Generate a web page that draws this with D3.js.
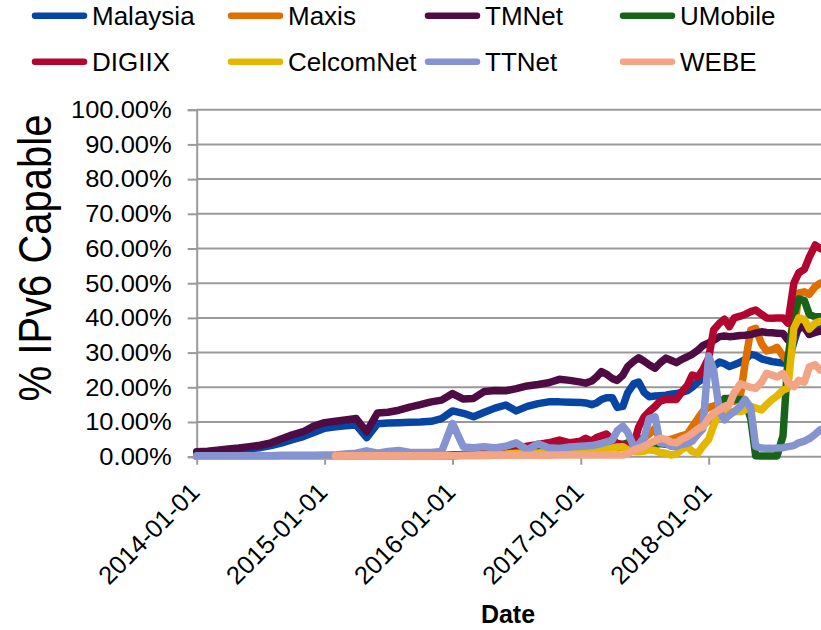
<!DOCTYPE html>
<html>
<head>
<meta charset="utf-8">
<script src="https://cdn.jsdelivr.net/npm/d3@7"></script>
<style>
  html, body { margin: 0; padding: 0; background: #fff; }
  svg { display: block; font-family: "Liberation Sans", Arial, sans-serif; }
</style>
</head>
<body>
<svg id="chart" width="821" height="630"></svg>
<script>
// ---------- DATA ----------
const dates = [
  "2014-01-01","2014-02-01","2014-03-01","2014-04-01","2014-05-01","2014-06-01","2014-07-01","2014-08-01","2014-09-01","2014-10-01","2014-11-01","2014-12-01",
  "2015-01-01","2015-02-01","2015-03-01","2015-04-01","2015-05-01","2015-06-01","2015-07-01","2015-08-01","2015-09-01","2015-10-01","2015-11-01","2015-12-01",
  "2016-01-01","2016-02-01","2016-03-01","2016-04-01","2016-05-01","2016-06-01","2016-07-01","2016-08-01","2016-09-01","2016-10-01","2016-11-01","2016-12-01",
  "2017-01-01","2017-01-15","2017-02-01","2017-02-15","2017-03-01","2017-03-15","2017-04-01","2017-04-15","2017-05-01","2017-05-15","2017-06-01","2017-06-15",
  "2017-07-01","2017-07-15","2017-08-01","2017-08-15","2017-09-01","2017-09-15","2017-10-01","2017-10-15","2017-11-01","2017-11-15","2017-12-01","2017-12-15",
  "2018-01-01","2018-01-15","2018-02-01","2018-02-15","2018-03-01","2018-03-15","2018-04-01","2018-04-15","2018-05-01","2018-05-15","2018-06-01","2018-06-15",
  "2018-07-01","2018-07-15","2018-08-01","2018-08-15","2018-09-01","2018-09-15","2018-10-01","2018-10-15","2018-11-01","2018-11-15"
];

const malaysia = [1.0,1.3,1.6,1.8,2.0,2.3,2.6,3.2,4.0,4.9,5.8,7.0, 8.2,8.6,8.9,9.1,5.5,9.5,9.7,9.8,9.9,10.0,10.2,11.0,
  13.2,12.5,11.5,12.8,14.0,14.9,13.2,14.5,15.3,15.8,15.8,15.7,
  15.6,15.5,15.0,15.5,16.5,17.0,17.0,14.2,14.5,18.5,21.0,21.5,18.5,17.3,17.5,17.6,17.7,18.0,18.2,18.5,19.0,20.0,21.5,22.5,
  24.5,26.0,27.3,26.8,26.0,26.5,27.2,28.0,29.5,29.2,28.2,27.8,27.4,27.2,27.0,27.0,33.0,37.5,38.0,37.0,37.8,37.5];

const maxis = [0.2,0.2,0.2,0.2,0.2,0.2,0.2,0.2,0.2,0.2,0.2,0.2, 0.3,0.3,0.3,0.3,0.3,0.3,0.3,0.3,0.3,0.3,0.3,0.3,
  0.5,0.5,0.6,0.7,0.8,0.9,1.0,1.2,1.5,1.8,2.0,2.0,
  2.0,2.5,2.2,2.8,3.0,3.5,3.0,2.5,2.8,3.0,3.2,4.0,5.5,6.5,8.2,4.8,4.5,5.0,5.5,6.0,6.5,8.6,11.0,13.0,
  14.2,14.6,15.4,15.6,15.8,16.0,17.3,27.0,36.5,37.0,32.5,30.5,30.8,31.5,29.0,27.6,35.0,47.2,47.5,46.8,49.0,50.0];

const tmnet = [1.4,1.6,1.9,2.2,2.5,2.9,3.3,4.0,5.2,6.3,7.2,8.8, 9.8,10.2,10.6,11.0,7.2,12.6,12.8,13.4,14.3,15.0,15.8,16.3,
  18.2,16.6,16.8,18.8,19.1,19.0,19.6,20.4,20.8,21.3,22.3,22.0,
  21.5,21.2,21.8,23.0,24.5,23.8,22.5,22.0,23.5,26.0,27.5,28.5,27.5,26.5,25.5,27.0,28.4,27.8,27.1,28.0,28.8,29.5,30.7,32.0,
  32.8,33.5,34.6,34.8,34.6,34.7,34.9,35.0,35.2,35.6,36.0,35.8,35.7,35.6,35.5,33.6,35.0,37.0,37.3,35.2,35.8,36.2];

const umobile = [0.3,0.3,0.3,0.3,0.3,0.3,0.3,0.3,0.3,0.3,0.3,0.3, 0.3,0.3,0.3,0.3,0.3,0.3,0.3,0.3,0.3,0.3,0.3,0.3,
  0.5,0.6,0.7,0.8,1.0,1.5,2.0,2.5,2.0,2.8,3.0,2.6,
  3.0,3.2,3.0,3.3,3.4,3.0,2.8,3.0,3.5,4.0,4.5,5.3,4.0,2.9,3.5,3.8,3.6,3.4,3.8,4.2,4.8,5.0,6.7,9.0,
  10.6,11.5,13.5,16.8,16.8,16.5,16.5,15.8,11.0,0.3,0.2,0.2,0.2,0.2,6.0,28.0,41.0,45.5,45.0,41.0,40.3,40.3];

const digiix = [0.1,0.1,0.1,0.1,0.1,0.1,0.1,0.1,0.1,0.1,0.1,0.1, 0.1,0.1,0.1,0.1,0.1,0.1,0.1,0.1,0.1,0.1,0.1,0.1,
  0.3,0.5,0.8,1.0,1.5,2.0,2.5,3.0,3.5,4.0,4.8,4.0,
  4.5,5.3,4.5,5.5,6.0,6.5,5.0,3.8,3.5,3.4,3.5,8.5,11.5,13.0,14.5,16.0,16.5,16.5,16.5,18.5,20.5,23.5,23.0,25.0,
  28.5,36.5,38.5,39.6,37.5,40.0,40.5,41.0,41.8,42.3,41.0,40.0,39.9,40.0,40.0,38.5,50.0,53.0,54.0,57.5,61.0,60.0];

const celcomnet = [0.1,0.1,0.1,0.1,0.1,0.1,0.1,0.1,0.1,0.1,0.1,0.1, 0.1,0.1,0.1,0.1,0.1,0.1,0.1,0.1,0.1,0.1,0.1,0.1,
  0.3,0.4,0.5,0.6,0.7,0.8,1.0,1.0,1.1,1.2,1.3,1.3,
  1.4,1.5,1.5,1.8,2.2,2.4,2.5,2.8,2.9,2.0,1.5,1.4,1.6,2.0,1.8,1.2,1.0,0.5,0.8,2.0,2.9,1.5,1.0,3.0,
  5.0,9.0,12.6,12.8,12.9,13.0,13.0,13.5,14.5,14.0,13.5,15.0,16.5,17.5,19.2,19.8,37.0,40.0,39.5,36.8,38.5,39.0];

const ttnet = [0.3,0.3,0.3,0.3,0.3,0.3,0.3,0.3,0.4,0.4,0.4,0.4, 0.5,0.5,0.8,1.0,1.7,1.0,1.5,1.8,1.2,1.2,1.2,1.5,
  9.6,2.8,2.6,2.9,2.5,3.0,4.0,2.0,3.7,2.6,2.4,2.8,
  3.0,3.1,3.2,3.5,3.8,4.2,4.8,7.5,8.8,7.0,3.0,3.5,5.5,11.0,11.5,4.0,3.8,3.0,2.9,3.5,3.8,4.5,6.5,8.0,
  29.0,25.0,13.0,10.6,12.0,13.0,14.5,16.5,14.0,3.0,2.5,2.4,2.4,2.5,2.6,2.9,3.2,4.0,4.5,5.2,6.5,7.7];

const webe = [null,null,null,null,null,null,null,null,null,null,null,null, null,0.3,0.3,0.3,0.3,0.3,0.3,0.3,0.3,0.3,0.3,0.3,
  0.3,0.3,0.3,0.3,0.4,0.4,0.4,0.4,0.4,0.4,0.5,0.5,
  0.5,0.5,0.5,0.5,0.5,0.5,0.5,0.5,0.5,0.8,1.9,2.4,3.0,3.8,4.5,5.3,5.0,4.2,4.0,5.0,5.8,6.7,8.0,8.6,
  11.0,12.5,13.5,14.5,15.0,18.5,21.0,20.5,20.0,19.7,21.5,24.0,23.5,23.0,24.0,21.5,20.2,22.0,21.5,25.9,26.5,25.0];

const seriesNames = ["Malaysia","Maxis","TMNet","UMobile","DIGIIX","CelcomNet","TTNet","WEBE"];
const seriesValues = [malaysia, maxis, tmnet, umobile, digiix, celcomnet, ttnet, webe];
const seriesColors = ["#0645A3","#DE6F00","#4F0B43","#18631A","#B2052F","#E4B701","#8593D0","#F2A484"];
const yTicks = [0,10,20,30,40,50,60,70,80,90,100];
const xTicks = ["2014-01-01","2015-01-01","2016-01-01","2017-01-01","2018-01-01"];

// ---------- CHART ----------
const svg = d3.select("#chart");
const parse = d3.utcParse("%Y-%m-%d");
const fmt = d3.utcFormat("%Y-%m-%d");

const x = d3.scaleUtc()
  .domain([parse("2014-01-01"), parse("2018-01-01")])
  .range([196.7, 708.7]);
const y = d3.scaleLinear().domain([0, 100]).range([456.7, 109.7]);

const plotRight = 821;

// gridlines
svg.append("g").selectAll("line").data(yTicks.filter(d => d > 0)).join("line")
  .attr("x1", x.range()[0]).attr("x2", plotRight)
  .attr("y1", d => y(d)).attr("y2", d => y(d))
  .attr("stroke", "#9a9a9a").attr("stroke-width", 2);

// y axis
const yAxis = svg.append("g").attr("transform", `translate(${x.range()[0]},0)`)
  .call(d3.axisLeft(y).tickValues(yTicks).tickFormat(d => d.toFixed(2) + "%").tickSize(9).tickPadding(16));
yAxis.select(".domain").attr("stroke", "#9a9a9a").attr("stroke-width", 2);
yAxis.selectAll(".tick line").attr("stroke", "#9a9a9a").attr("stroke-width", 2);
yAxis.selectAll(".tick text")
  .attr("font-size", 23).attr("fill", "#000")
  .attr("font-family", "Liberation Sans, Arial, sans-serif")
  .attr("x", 0).attr("dy", "0.34em")
  .attr("transform", "translate(-25,0) scale(1.11,1)");

// x axis
const xAxis = svg.append("g").attr("transform", `translate(0,${y(0)})`)
  .call(d3.axisBottom(x).tickValues(xTicks.map(parse)).tickFormat(fmt).tickSize(8).tickSizeOuter(0));
xAxis.select(".domain").attr("d", `M${x.range()[0]},0H${plotRight}`).attr("stroke", "#9a9a9a").attr("stroke-width", 2);
xAxis.selectAll(".tick line").attr("stroke", "#9a9a9a").attr("stroke-width", 2);
xAxis.selectAll(".tick text")
  .attr("font-size", 25.5).attr("fill", "#000")
  .attr("font-family", "Liberation Sans, Arial, sans-serif")
  .attr("x", 0).attr("y", 0).attr("dy", 0)
  .attr("text-anchor", "end")
  .attr("transform", "translate(4,37) rotate(-45)");

// lines
svg.append("clipPath").attr("id", "plotclip")
  .append("rect").attr("x", 0).attr("y", 0).attr("width", plotRight).attr("height", 630);

const parsedDates = dates.map(parse);
const line = d3.line()
  .defined(d => d.v != null)
  .x(d => x(d.date))
  .y(d => y(d.v));

const linesG = svg.append("g").attr("clip-path", "url(#plotclip)");
seriesNames.forEach((name, i) => {
  const pts = parsedDates.map((dt, j) => ({ date: dt, v: seriesValues[i][j] }));
  linesG.append("path")
    .datum(pts)
    .attr("d", line)
    .attr("fill", "none")
    .attr("stroke", seriesColors[i])
    .attr("stroke-width", 7.5)
    .attr("stroke-linejoin", "round")
    .attr("stroke-linecap", "round");
});

// legend
const legCols = [32, 228, 425, 620];
const legRows = [15.7, 61.7];
const legend = svg.append("g");
seriesNames.forEach((name, i) => {
  const cx = legCols[i % 4];
  const cy = legRows[Math.floor(i / 4)];
  legend.append("line")
    .attr("x1", cx + 3).attr("x2", cx + 52)
    .attr("y1", cy).attr("y2", cy)
    .attr("stroke", seriesColors[i]).attr("stroke-width", 6.5).attr("stroke-linecap", "round");
  legend.append("text")
    .attr("x", cx + 60).attr("y", cy + 9)
    .attr("font-size", 26).attr("fill", "#000")
    .text(name);
});

// axis titles
svg.append("text")
  .attr("transform", "translate(51,258) rotate(-90) scale(1,1.15)")
  .attr("text-anchor", "middle")
  .attr("font-size", 40).attr("fill", "#000")
  .text("% IPv6 Capable");

svg.append("text")
  .attr("x", 508).attr("y", 623)
  .attr("text-anchor", "middle")
  .attr("font-size", 25).attr("font-weight", "bold").attr("fill", "#000")
  .text("Date");
</script>
</body>
</html>
